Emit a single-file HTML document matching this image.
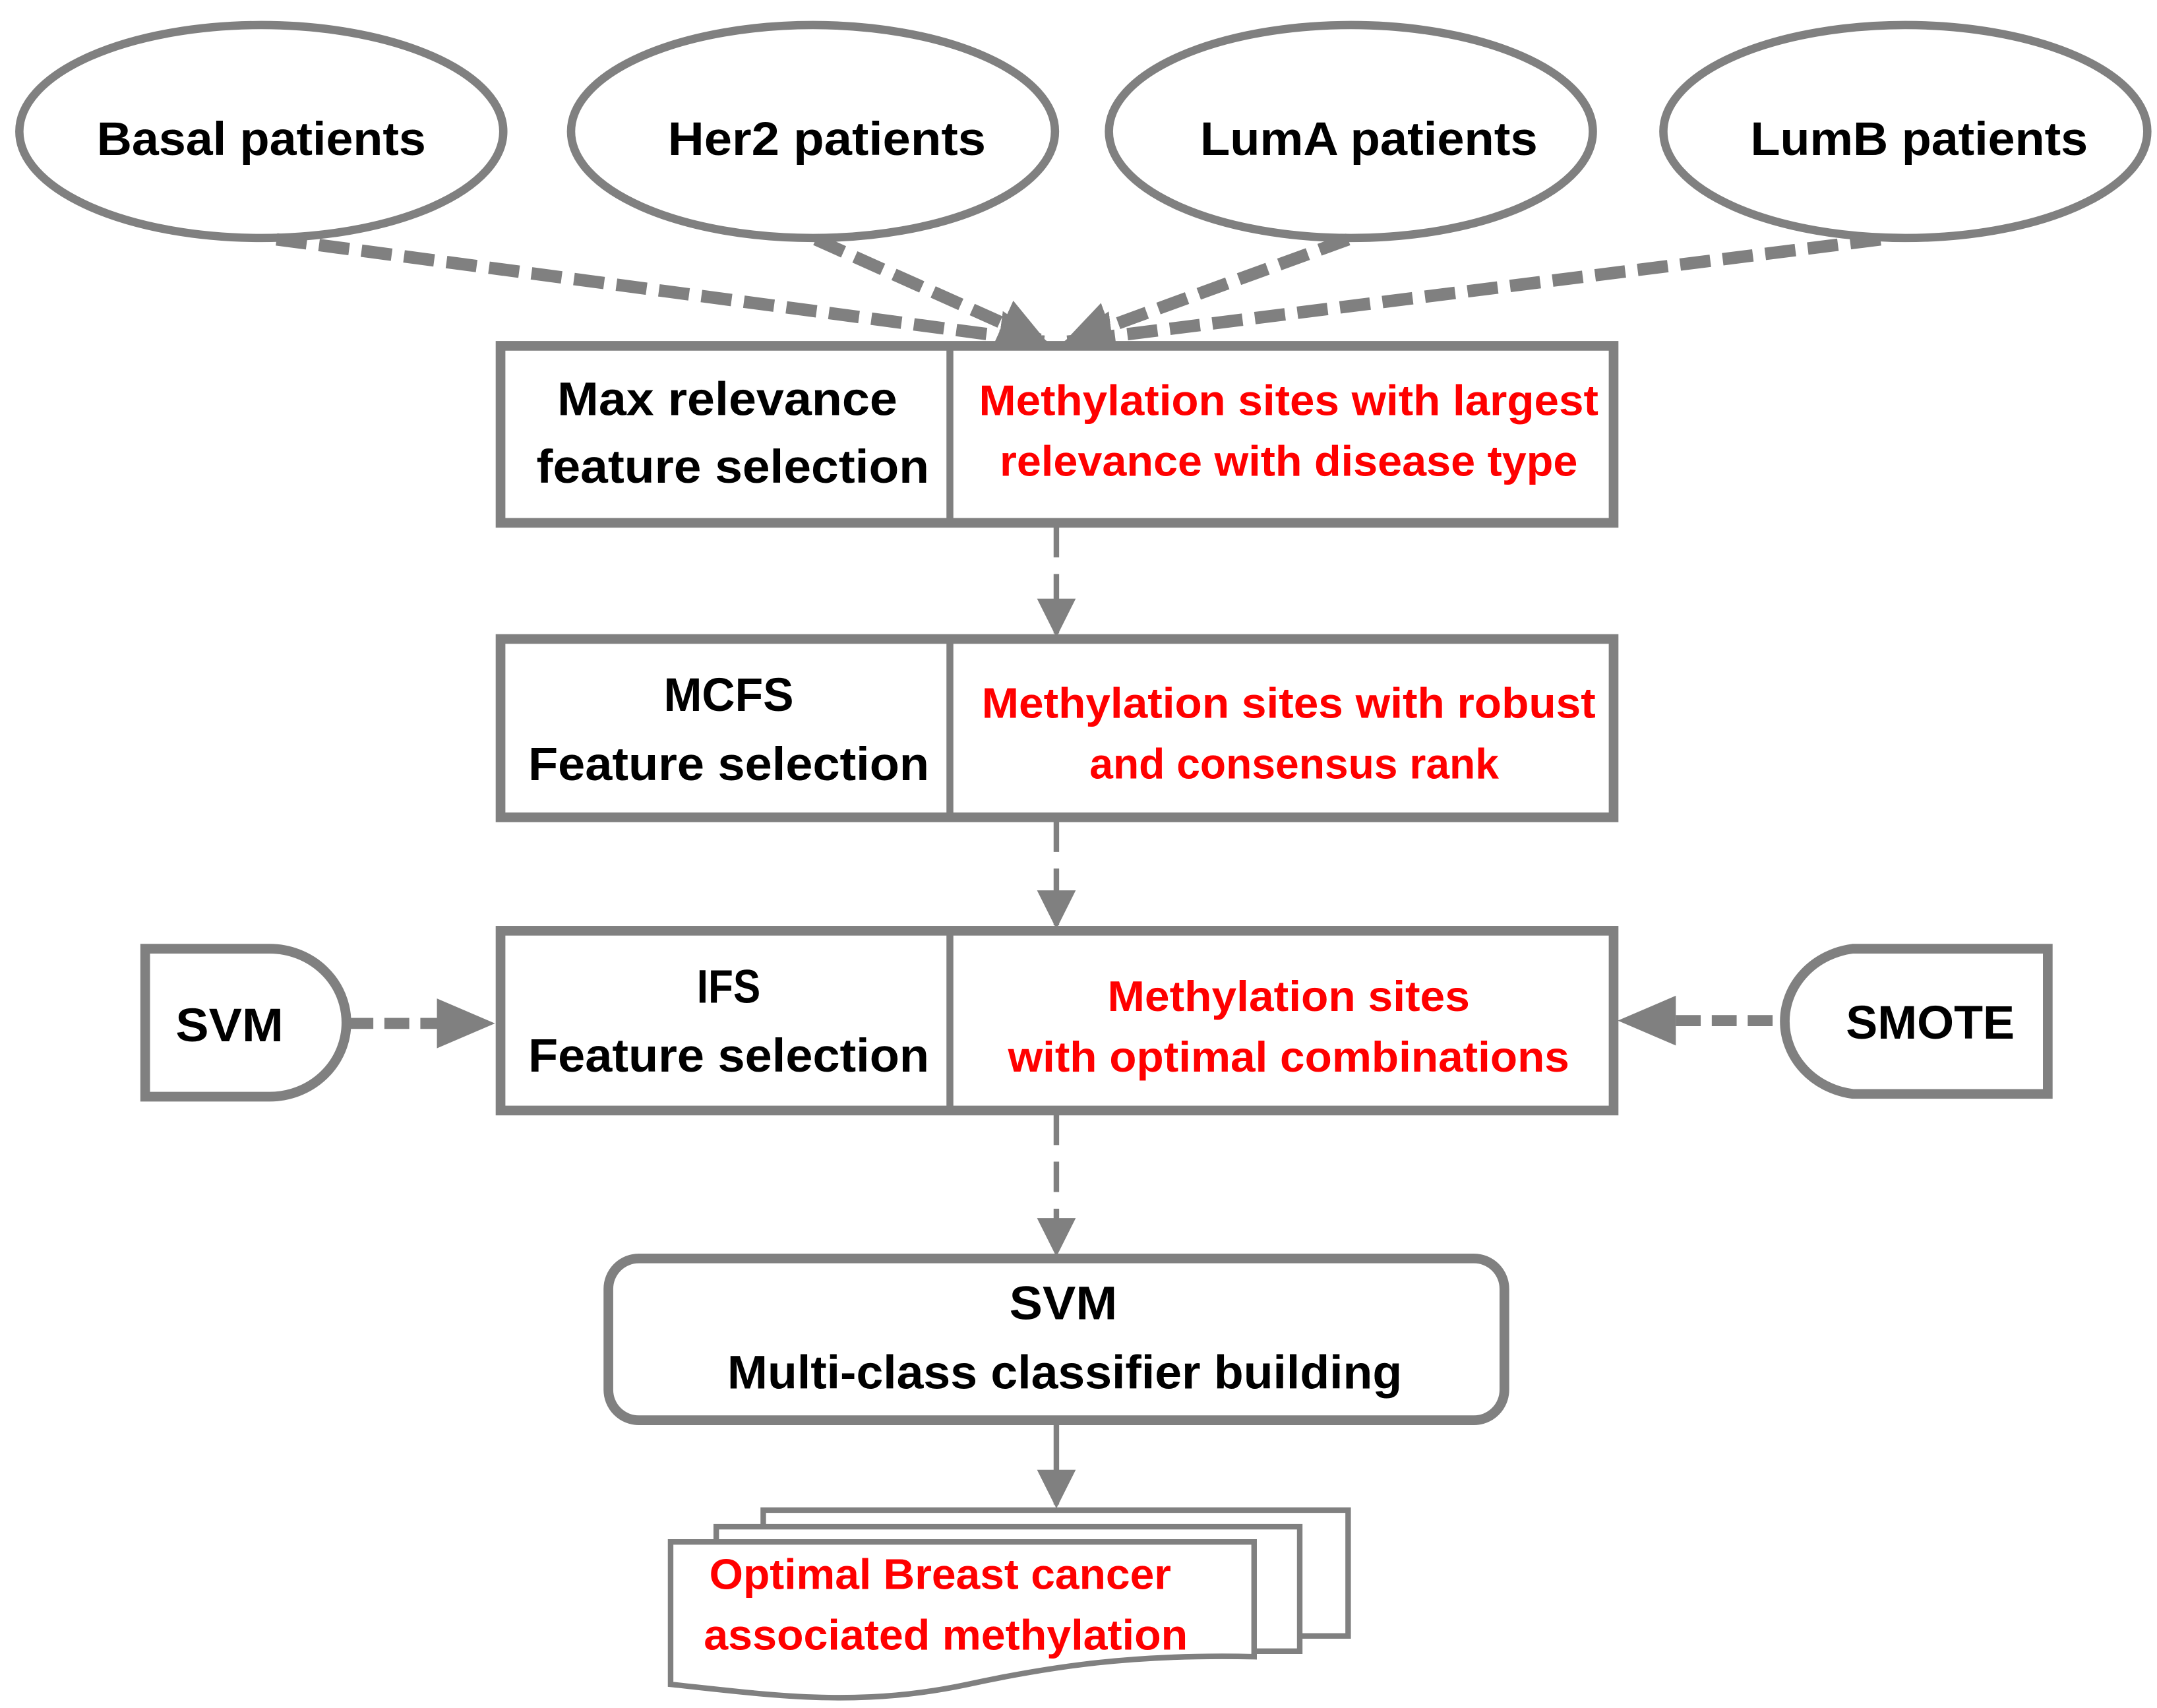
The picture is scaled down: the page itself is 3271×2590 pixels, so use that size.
<!DOCTYPE html>
<html><head><style>html,body{margin:0;padding:0;background:#fff}svg{display:block}</style></head><body>
<svg width="3271" height="2590" viewBox="0 0 1560 1235" xmlns="http://www.w3.org/2000/svg" font-family="Liberation Sans, sans-serif" font-weight="bold">
<defs>
<marker id="ah" viewBox="0 0 10 10" refX="9" refY="5" markerWidth="4" markerHeight="4" orient="auto" markerUnits="strokeWidth"><path d="M0,0L10,5L0,10z" fill="#808080"/></marker>
<marker id="as" viewBox="0 0 10 10" refX="9" refY="5" markerWidth="7" markerHeight="7" orient="auto" markerUnits="strokeWidth"><path d="M0,0L10,5L0,10z" fill="#808080"/></marker>
</defs>
<g fill="#fff" stroke="#808080" stroke-width="6">
<ellipse cx="189" cy="95" rx="175" ry="77"/>
<ellipse cx="588" cy="95" rx="175" ry="77"/>
<ellipse cx="977" cy="95" rx="175" ry="77"/>
<ellipse cx="1378" cy="95" rx="175" ry="77"/>
</g>
<g stroke="#808080" stroke-width="9" stroke-dasharray="22,9" fill="none" marker-end="url(#ah)">
<line x1="200" y1="173" x2="755" y2="247"/>
<line x1="590" y1="173" x2="755" y2="247"/>
<line x1="975" y1="173" x2="772" y2="247"/>
<line x1="1360" y1="173" x2="772" y2="247"/>
</g>
<g stroke="#808080" stroke-width="4" stroke-dasharray="22,12" fill="none" marker-end="url(#as)">
<line x1="764" y1="381" x2="764" y2="458"/>
<line x1="764" y1="594" x2="764" y2="669"/>
<line x1="764" y1="806" x2="764" y2="906"/>
</g>
<line x1="764" y1="1030" x2="764" y2="1088" stroke="#808080" stroke-width="4" marker-end="url(#as)"/>
<g stroke="#808080" stroke-width="8" stroke-dasharray="18,8" fill="none">
<line x1="252" y1="740" x2="318" y2="740"/>
<line x1="1282" y1="738" x2="1212" y2="738"/>
</g>
<path d="M316,722L358,740L316,758z" fill="#808080"/>
<path d="M1212,720L1170,738L1212,756z" fill="#808080"/>
<g fill="#fff" stroke="#808080" stroke-width="7">
<rect x="362" y="250" width="805" height="128"/>
<rect x="362" y="462" width="805" height="129"/>
<rect x="362" y="673" width="805" height="130"/>
<rect x="440" y="910" width="648" height="117" rx="22"/>
<path d="M105,686H195A55,53 0 0 1 195,793H105z"/>
<path d="M1481,686H1340A57,53 0 0 0 1340,791H1481z"/>
</g>
<g stroke="#808080" stroke-width="5">
<line x1="687" y1="250" x2="687" y2="378"/>
<line x1="687" y1="462" x2="687" y2="591"/>
<line x1="687" y1="673" x2="687" y2="803"/>
</g>
<g fill="#fff" stroke="#808080" stroke-width="4">
<rect x="552" y="1092" width="423" height="91"/>
<rect x="518" y="1104" width="422" height="90"/>
<path d="M485,1115H907V1198C820,1196 760,1205 700,1218C620,1235 560,1226 485,1218z"/>
</g>
<g font-size="34" fill="#000" text-anchor="middle">
<text x="189" y="112" textLength="238" lengthAdjust="spacingAndGlyphs">Basal patients</text>
<text x="598" y="112" textLength="230" lengthAdjust="spacingAndGlyphs">Her2 patients</text>
<text x="990" y="112" textLength="244" lengthAdjust="spacingAndGlyphs">LumA patients</text>
<text x="1388" y="112" textLength="244" lengthAdjust="spacingAndGlyphs">LumB patients</text>
<text x="526" y="300" textLength="246" lengthAdjust="spacingAndGlyphs">Max relevance</text>
<text x="530" y="349" textLength="284" lengthAdjust="spacingAndGlyphs">feature selection</text>
<text x="527" y="514" textLength="94" lengthAdjust="spacingAndGlyphs">MCFS</text>
<text x="527" y="564" textLength="290" lengthAdjust="spacingAndGlyphs">Feature selection</text>
<text x="527" y="725" textLength="46" lengthAdjust="spacingAndGlyphs">IFS</text>
<text x="527" y="775" textLength="290" lengthAdjust="spacingAndGlyphs">Feature selection</text>
<text x="166" y="753" textLength="78" lengthAdjust="spacingAndGlyphs">SVM</text>
<text x="1396" y="751" textLength="122" lengthAdjust="spacingAndGlyphs">SMOTE</text>
<text x="769" y="954" textLength="78" lengthAdjust="spacingAndGlyphs">SVM</text>
<text x="770" y="1004" textLength="488" lengthAdjust="spacingAndGlyphs">Multi-class classifier building</text>
</g>
<g font-size="31" fill="#ff0000" text-anchor="middle">
<text x="932" y="300" textLength="448" lengthAdjust="spacingAndGlyphs">Methylation sites with largest</text>
<text x="932" y="344" textLength="418" lengthAdjust="spacingAndGlyphs">relevance with disease type</text>
<text x="932" y="519" textLength="444" lengthAdjust="spacingAndGlyphs">Methylation sites with robust</text>
<text x="936" y="563" textLength="296" lengthAdjust="spacingAndGlyphs">and consensus rank</text>
<text x="932" y="731" textLength="262" lengthAdjust="spacingAndGlyphs">Methylation sites</text>
<text x="932" y="775" textLength="406" lengthAdjust="spacingAndGlyphs">with optimal combinations</text>
<text x="680" y="1149" textLength="334" lengthAdjust="spacingAndGlyphs">Optimal Breast cancer</text>
<text x="684" y="1193" textLength="350" lengthAdjust="spacingAndGlyphs">associated methylation</text>
</g>
</svg>
</body></html>
